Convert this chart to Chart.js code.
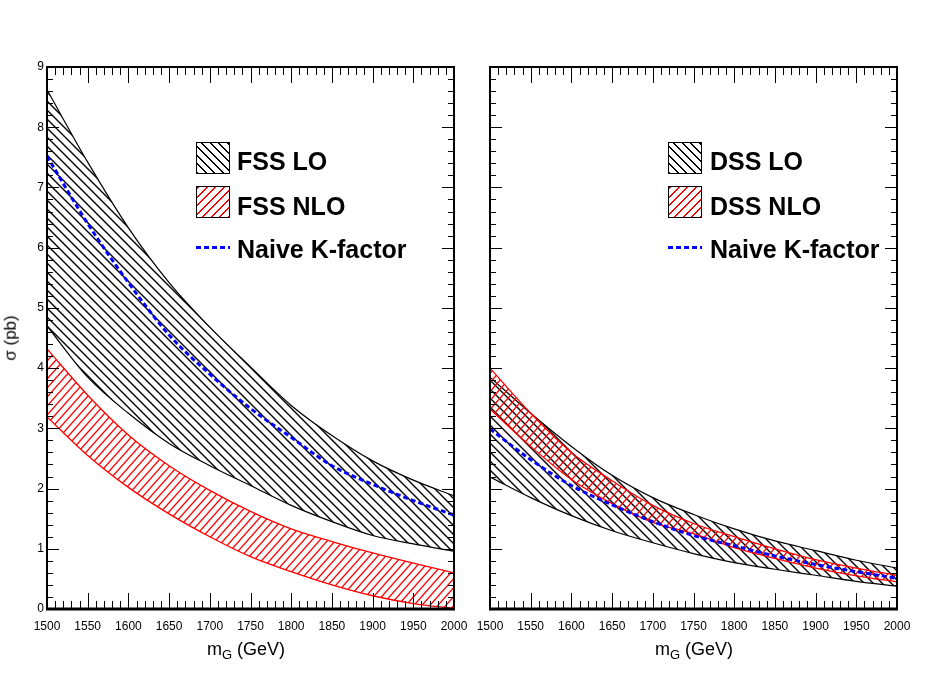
<!DOCTYPE html>
<html>
<head>
<meta charset="utf-8">
<script src="https://cdn.jsdelivr.net/npm/chart.js@4"></script>
<style>
  body { margin: 0; background: #fff; width: 945px; height: 678px; position: relative; overflow: hidden;
         font-family: "Liberation Sans", Arial, sans-serif; }
  canvas { position: absolute; top: 0; }
  .lbl { position: absolute; font-weight: bold; font-size: 25px; line-height: 25px; color: #000; white-space: nowrap; }
  .box { position: absolute; width: 32px; height: 30px; border: 1.5px solid #000; }
  .hatchK { background: repeating-linear-gradient(45deg, #000 0 1.3px, #fff 1.3px 6px); }
  .hatchR { background: repeating-linear-gradient(-45deg, #f00 0 1.3px, #fff 1.3px 6px); }
  .dash { position: absolute; width: 34px; height: 3px;
          background: repeating-linear-gradient(90deg, #00f 0 5px, transparent 5px 8px); }
  .xt { position: absolute; font-size: 18px; width: 200px; text-align: center; }
  .xt sub { font-size: 13px; vertical-align: -4px; }
  .yt { position: absolute; font-size: 17px; transform: rotate(-90deg); transform-origin: center; }
</style>
</head>
<body>
<canvas id="left" width="470" height="678" style="left:0"></canvas>
<canvas id="right" width="475" height="678" style="left:470px"></canvas>

<!-- legends -->
<div class="box hatchK" style="left:196px;top:142px"></div>
<div class="lbl" style="left:237px;top:149px">FSS LO</div>
<div class="box hatchR" style="left:196px;top:186px"></div>
<div class="lbl" style="left:237px;top:194px">FSS NLO</div>
<div class="dash" style="left:196px;top:246px"></div>
<div class="lbl" style="left:237px;top:237px">Naive K-factor</div>

<div class="box hatchK" style="left:668px;top:142px"></div>
<div class="lbl" style="left:710px;top:149px">DSS LO</div>
<div class="box hatchR" style="left:668px;top:186px"></div>
<div class="lbl" style="left:710px;top:194px">DSS NLO</div>
<div class="dash" style="left:668px;top:246px"></div>
<div class="lbl" style="left:710px;top:237px">Naive K-factor</div>

<!-- axis titles -->
<div class="xt" style="left:146px;top:639px">m<sub>G</sub> (GeV)</div>
<div class="xt" style="left:594px;top:639px">m<sub>G</sub> (GeV)</div>
<div class="yt" style="left:-12px;top:328px">σ (pb)</div>

<script>
// data
const massPoints = [1500, 1550, 1600, 1650, 1700, 1750, 1800, 1850, 1900, 1950, 2000];

const fssLoUp    = [8.62, 7.42, 6.33, 5.42, 4.68, 4.02, 3.38, 2.88, 2.46, 2.14, 1.88];
const fssLoDown  = [4.70, 3.85, 3.25, 2.75, 2.38, 2.05, 1.72, 1.45, 1.22, 1.08, 0.96];
const fssNloUp   = [4.32, 3.55, 2.89, 2.38, 1.97, 1.62, 1.33, 1.12, 0.93, 0.76, 0.60];
const fssNloDown = [3.19, 2.55, 2.02, 1.58, 1.20, 0.87, 0.62, 0.40, 0.22, 0.09, 0.01];
const fssNaive   = [7.52, 6.40, 5.42, 4.55, 3.90, 3.33, 2.85, 2.38, 2.07, 1.80, 1.56];

const dssLoUp    = [3.85, 3.25, 2.70, 2.22, 1.85, 1.57, 1.33, 1.13, 0.97, 0.81, 0.68];
const dssLoDown  = [2.19, 1.85, 1.55, 1.30, 1.10, 0.92, 0.77, 0.66, 0.56, 0.46, 0.38];
const dssNloUp   = [4.00, 3.25, 2.60, 2.13, 1.72, 1.42, 1.20, 1.00, 0.82, 0.68, 0.56];
const dssNloDown = [3.32, 2.70, 2.15, 1.75, 1.44, 1.25, 1.02, 0.84, 0.68, 0.55, 0.45];
const dssNaive   = [2.99, 2.48, 2.05, 1.73, 1.45, 1.22, 1.05, 0.88, 0.74, 0.62, 0.51];

const xTickValues = [1500, 1550, 1600, 1650, 1700, 1750, 1800, 1850, 1900, 1950, 2000];
const yTickValues = [0, 1, 2, 3, 4, 5, 6, 7, 8, 9];

Chart.defaults.font.family = '"Liberation Sans", Arial, sans-serif';
Chart.defaults.color = '#000';

// hatch patterns, dir 1 = "/" , dir -1 = "\"
function hatch(color, w, h, dir, lw) {
    const c = document.createElement('canvas');
    c.width = w; c.height = h;
    const g = c.getContext('2d');
    g.strokeStyle = color;
    g.lineWidth = lw;
    g.beginPath();
    if (dir > 0) {
        g.moveTo(-w, 2 * h); g.lineTo(2 * w, -h);
        g.moveTo(-2 * w, 2 * h); g.lineTo(w, -h);
        g.moveTo(0, 2 * h); g.lineTo(3 * w, -h);
    } else {
        g.moveTo(-w, -h); g.lineTo(2 * w, 2 * h);
        g.moveTo(-2 * w, -h); g.lineTo(w, 2 * h);
        g.moveTo(0, -h); g.lineTo(3 * w, 2 * h);
    }
    g.stroke();
    return g.createPattern(c, 'repeat');
}
const blackHatch = hatch('#000', 9, 9, -1, 1.4);
const redHatch = hatch('#f00', 8, 9, 1, 1.3);

const pts = arr => arr.map((v, i) => ({ x: massPoints[i], y: v }));

// frame + inward ticks on all four sides
const frameTicks = {
    id: 'frameTicks',
    afterDatasetsDraw(chart) {
        const { ctx, chartArea: a, scales } = chart;
        const xs = scales.x, ys = scales.y;
        ctx.save();
        ctx.strokeStyle = '#000';
        ctx.lineWidth = 1;
        ctx.beginPath();
        for (let m = 1500; m <= 2000; m += 10) {
            const px = Math.round(xs.getPixelForValue(m)) + 0.5;
            const len = (m % 50 === 0) ? 16 : 8;
            ctx.moveTo(px, a.bottom); ctx.lineTo(px, a.bottom - len);
            ctx.moveTo(px, a.top); ctx.lineTo(px, a.top + len);
        }
        for (let k = 0; k <= 45; k++) {
            const v = k / 5;
            const py = Math.round(ys.getPixelForValue(v)) + 0.5;
            const len = (k % 5 === 0) ? 12 : 6;
            ctx.moveTo(a.left, py); ctx.lineTo(a.left + len, py);
            ctx.moveTo(a.right, py); ctx.lineTo(a.right - len, py);
        }
        ctx.stroke();
        ctx.lineWidth = 2;
        ctx.strokeRect(a.left, a.top, a.right - a.left, a.bottom - a.top);
        ctx.beginPath();
        ctx.lineWidth = 3;
        ctx.moveTo(a.left - 1, a.bottom); ctx.lineTo(a.right + 1, a.bottom);
        ctx.stroke();
        ctx.restore();
    }
};

function makeChart(id, naive, nloUp, nloDown, loUp, loDown, showY, yWidth, padRight) {
    return new Chart(document.getElementById(id), {
        type: 'line',
        data: {
            datasets: [
                { data: pts(naive), borderColor: '#0000ff', borderWidth: 3, borderDash: [5, 3], fill: false },
                { data: pts(nloUp), borderColor: '#ff0000', borderWidth: 1.3, fill: 2, backgroundColor: redHatch },
                { data: pts(nloDown), borderColor: '#ff0000', borderWidth: 1.3, fill: false },
                { data: pts(loUp), borderColor: '#000', borderWidth: 1.2, fill: 4, backgroundColor: blackHatch },
                { data: pts(loDown), borderColor: '#000', borderWidth: 1.2, fill: false }
            ]
        },
        options: {
            responsive: false,
            animation: false,
            devicePixelRatio: 1,
            layout: { padding: { top: 67, right: padRight, left: 0, bottom: 0 } },
            elements: { point: { radius: 0 }, line: { cubicInterpolationMode: 'monotone' } },
            plugins: { legend: { display: false }, tooltip: { enabled: false } },
            scales: {
                x: {
                    type: 'linear', min: 1500, max: 2000,
                    grid: { display: false, drawTicks: false },
                    border: { display: false },
                    ticks: { font: { size: 12 }, padding: 10, maxRotation: 0, autoSkip: false,
                             callback: v => String(v) },
                    afterBuildTicks: s => { s.ticks = xTickValues.map(v => ({ value: v })); },
                    afterFit: s => { s.height = 69; s.paddingLeft = 0; s.paddingRight = 0; }
                },
                y: {
                    type: 'linear', min: 0, max: 9,
                    grid: { display: false, drawTicks: false },
                    border: { display: false },
                    ticks: { display: showY, font: { size: 12 }, padding: 3, callback: v => String(v) },
                    afterBuildTicks: s => { s.ticks = yTickValues.map(v => ({ value: v })); },
                    afterFit: s => { s.width = yWidth; s.paddingTop = 0; s.paddingBottom = 0; }
                }
            }
        },
        plugins: [frameTicks]
    });
}

makeChart('left', fssNaive, fssNloUp, fssNloDown, fssLoUp, fssLoDown, true, 47, 16);
makeChart('right', dssNaive, dssNloUp, dssNloDown, dssLoUp, dssLoDown, false, 20, 48);
</script>
</body>
</html>
